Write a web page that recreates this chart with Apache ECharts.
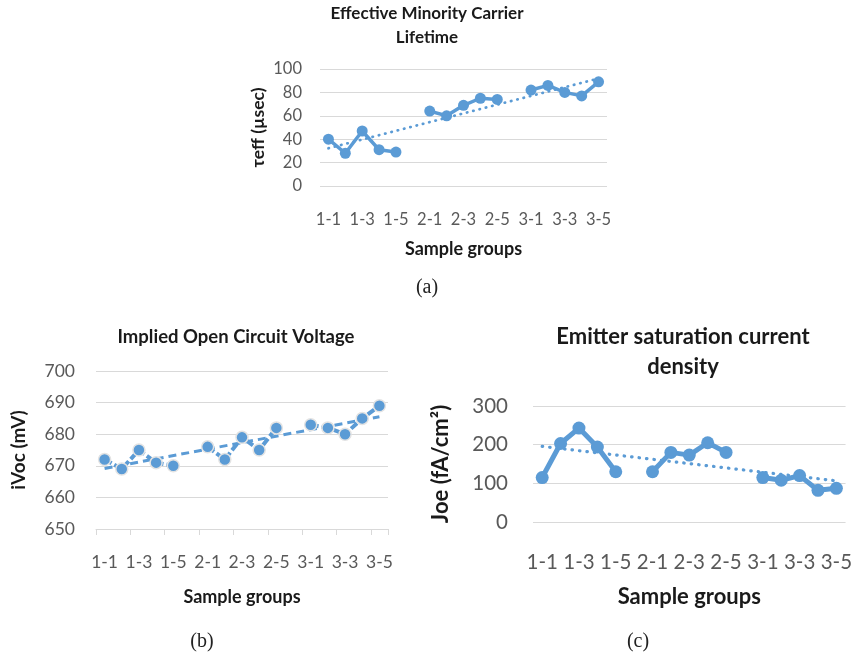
<!DOCTYPE html>
<html>
<head>
<meta charset="utf-8">
<script src="https://cdn.jsdelivr.net/npm/echarts@6/dist/echarts.min.js"></script>
<style>
html,body{margin:0;padding:0;background:#fff;}
#chart{width:855px;height:657px;}
</style>
</head>
<body>
<div id="chart"></div>
<script>
// Categories (blank entries are the gaps between sample groups)
var categories = ['1-1','1-2','1-3','1-4','1-5','','2-1','2-2','2-3','2-4','2-5','','3-1','3-2','3-3','3-4','3-5'];
// (a) Effective minority carrier lifetime (µsec)
var tauEff = [40,28,47,31,29,null,64,60,69,75,74,null,82,86,80,77,89];
// (b) Implied open circuit voltage (mV)
var iVoc = [672,669,675,671,670,null,676,672,679,675,682,null,683,682,680,685,689];
// (c) Emitter saturation current density (fA/cm²)
var joe = [115,203,243,194,130,null,130,180,173,205,180,null,115,108,120,82,87];

var titleA = 'Effective Minority Carrier\nLifetime';
var titleB = 'Implied Open Circuit Voltage';
var titleC = 'Emitter saturation current\ndensity';
var yNameA = 'τeff (µsec)';
var yNameB = 'iVoc (mV)';
var yNameC = 'Joe (fA/cm²)';
var xName = 'Sample groups';
var captions = ['(a)','(b)','(c)'];

// Linear least-squares trendline over category positions (as the spreadsheet trendline)
function trend(vals){
  var n=0,sx=0,sy=0,sxy=0,sxx=0;
  vals.forEach(function(v,i){ if(v!==null){n++;sx+=i;sy+=v;sxy+=i*v;sxx+=i*i;} });
  var b=(n*sxy-sx*sy)/(n*sxx-sx*sx), a=(sy-b*sx)/n;
  var last=vals.length-1;
  return vals.map(function(v,i){ return (i===0||i===last)? a+b*i : null; });
}

var BLUE='#5B9BD5', GRID='#D9D9D9', LBL='#595959', FONT='Lato, "Open Sans", sans-serif';
var SERIF='"Liberation Serif", "DejaVu Serif", serif';

function xAxis(idx, fs, margin, nameGap, nameFs, showLine){
  return {
    type:'category', gridIndex:idx, data:categories, boundaryGap:true,
    axisLine:{show:showLine, lineStyle:{color:GRID,width:1}},
    axisTick:{show:showLine, length:6, lineStyle:{color:GRID}},
    axisLabel:{interval:1, color:LBL, fontSize:fs, fontFamily:FONT, margin:margin},
    name:xName, nameLocation:'middle', nameGap:nameGap,
    nameTextStyle:{fontSize:nameFs, fontWeight:'bold', color:'#1a1a1a', fontFamily:FONT}
  };
}
function yAxis(idx, min, max, interval, fs, margin, name, nameGap, nameFs){
  return {
    type:'value', gridIndex:idx, min:min, max:max, interval:interval,
    axisLine:{show:false}, axisTick:{show:false},
    splitLine:{lineStyle:{color:GRID,width:1}},
    axisLabel:{color:LBL, fontSize:fs, fontFamily:FONT, margin:margin},
    name:name, nameLocation:'middle', nameRotate:90, nameGap:nameGap,
    nameTextStyle:{fontSize:nameFs, fontWeight:'bold', color:'#1a1a1a', fontFamily:FONT}
  };
}
function cap(text, x, y){
  return {text:text, left:x, top:y, padding:0, textAlign:'center',
    textStyle:{fontSize:20, fontWeight:'normal', color:'#222', fontFamily:SERIF, lineHeight:22}};
}

var option = {
  backgroundColor:'#fff',
  animation:false,
  title:[
    {text:titleA, left:427, top:2, padding:0, textAlign:'center', textStyle:{fontSize:17, fontWeight:'bold', color:'#1a1a1a', fontFamily:FONT, lineHeight:24}},
    {text:titleB, left:236, top:326, padding:0, textAlign:'center', textStyle:{fontSize:18.5, fontWeight:'bold', color:'#1a1a1a', fontFamily:FONT, lineHeight:22}},
    {text:titleC, left:683, top:322, padding:0, textAlign:'center', textStyle:{fontSize:22, fontWeight:'bold', color:'#1a1a1a', fontFamily:FONT, lineHeight:30}},
    cap(captions[0], 427, 277),
    cap(captions[1], 202, 631),
    cap(captions[2], 638, 631)
  ],
  grid:[
    {left:320, top:69, width:287, height:117},
    {left:96, top:371, width:292, height:158},
    {left:533, top:406, width:315, height:116}
  ],
  xAxis:[
    xAxis(0, 16.5, 25, 54, 18, false),
    xAxis(1, 17.5, 24, 59, 18, true),
    xAxis(2, 20.5, 30, 64, 22, false)
  ],
  yAxis:[
    yAxis(0, 0, 100, 20, 16.5, 18, yNameA, 53, 17.5),
    yAxis(1, 650, 700, 10, 17.5, 21, yNameB, 68, 19),
    yAxis(2, 0, 300, 100, 20.5, 25, yNameC, 81, 22)
  ],
  series:[
    {type:'line', xAxisIndex:0, yAxisIndex:0, data:tauEff, connectNulls:false, showAllSymbol:true,
     symbol:'circle', symbolSize:11, lineStyle:{color:BLUE,width:3.5}, itemStyle:{color:BLUE}, z:3},
    {type:'line', xAxisIndex:0, yAxisIndex:0, data:trend(tauEff), connectNulls:true,
     symbol:'none', lineStyle:{color:BLUE,width:2.7,type:[0.5,6],cap:'round'}, z:2},
    {type:'line', xAxisIndex:1, yAxisIndex:1, data:iVoc, connectNulls:false, showAllSymbol:true,
     symbol:'circle', symbolSize:12, lineStyle:{color:BLUE,width:4,type:[8,3]}, itemStyle:{color:BLUE, borderColor:'#E3E3E3', borderWidth:1.5}, z:3},
    {type:'line', xAxisIndex:1, yAxisIndex:1, data:trend(iVoc), connectNulls:true,
     symbol:'none', lineStyle:{color:BLUE,width:3,type:[8,5]}, z:2},
    {type:'line', xAxisIndex:2, yAxisIndex:2, data:joe, connectNulls:false, showAllSymbol:true,
     symbol:'circle', symbolSize:13, lineStyle:{color:BLUE,width:5}, itemStyle:{color:BLUE}, z:3},
    {type:'line', xAxisIndex:2, yAxisIndex:2, data:trend(joe), connectNulls:true,
     symbol:'none', lineStyle:{color:BLUE,width:3.2,type:[0.5,7],cap:'round'}, z:2}
  ]
};
var chart = echarts.init(document.getElementById('chart'), null, {renderer:'canvas'});
chart.setOption(option);
</script>
</body>
</html>
